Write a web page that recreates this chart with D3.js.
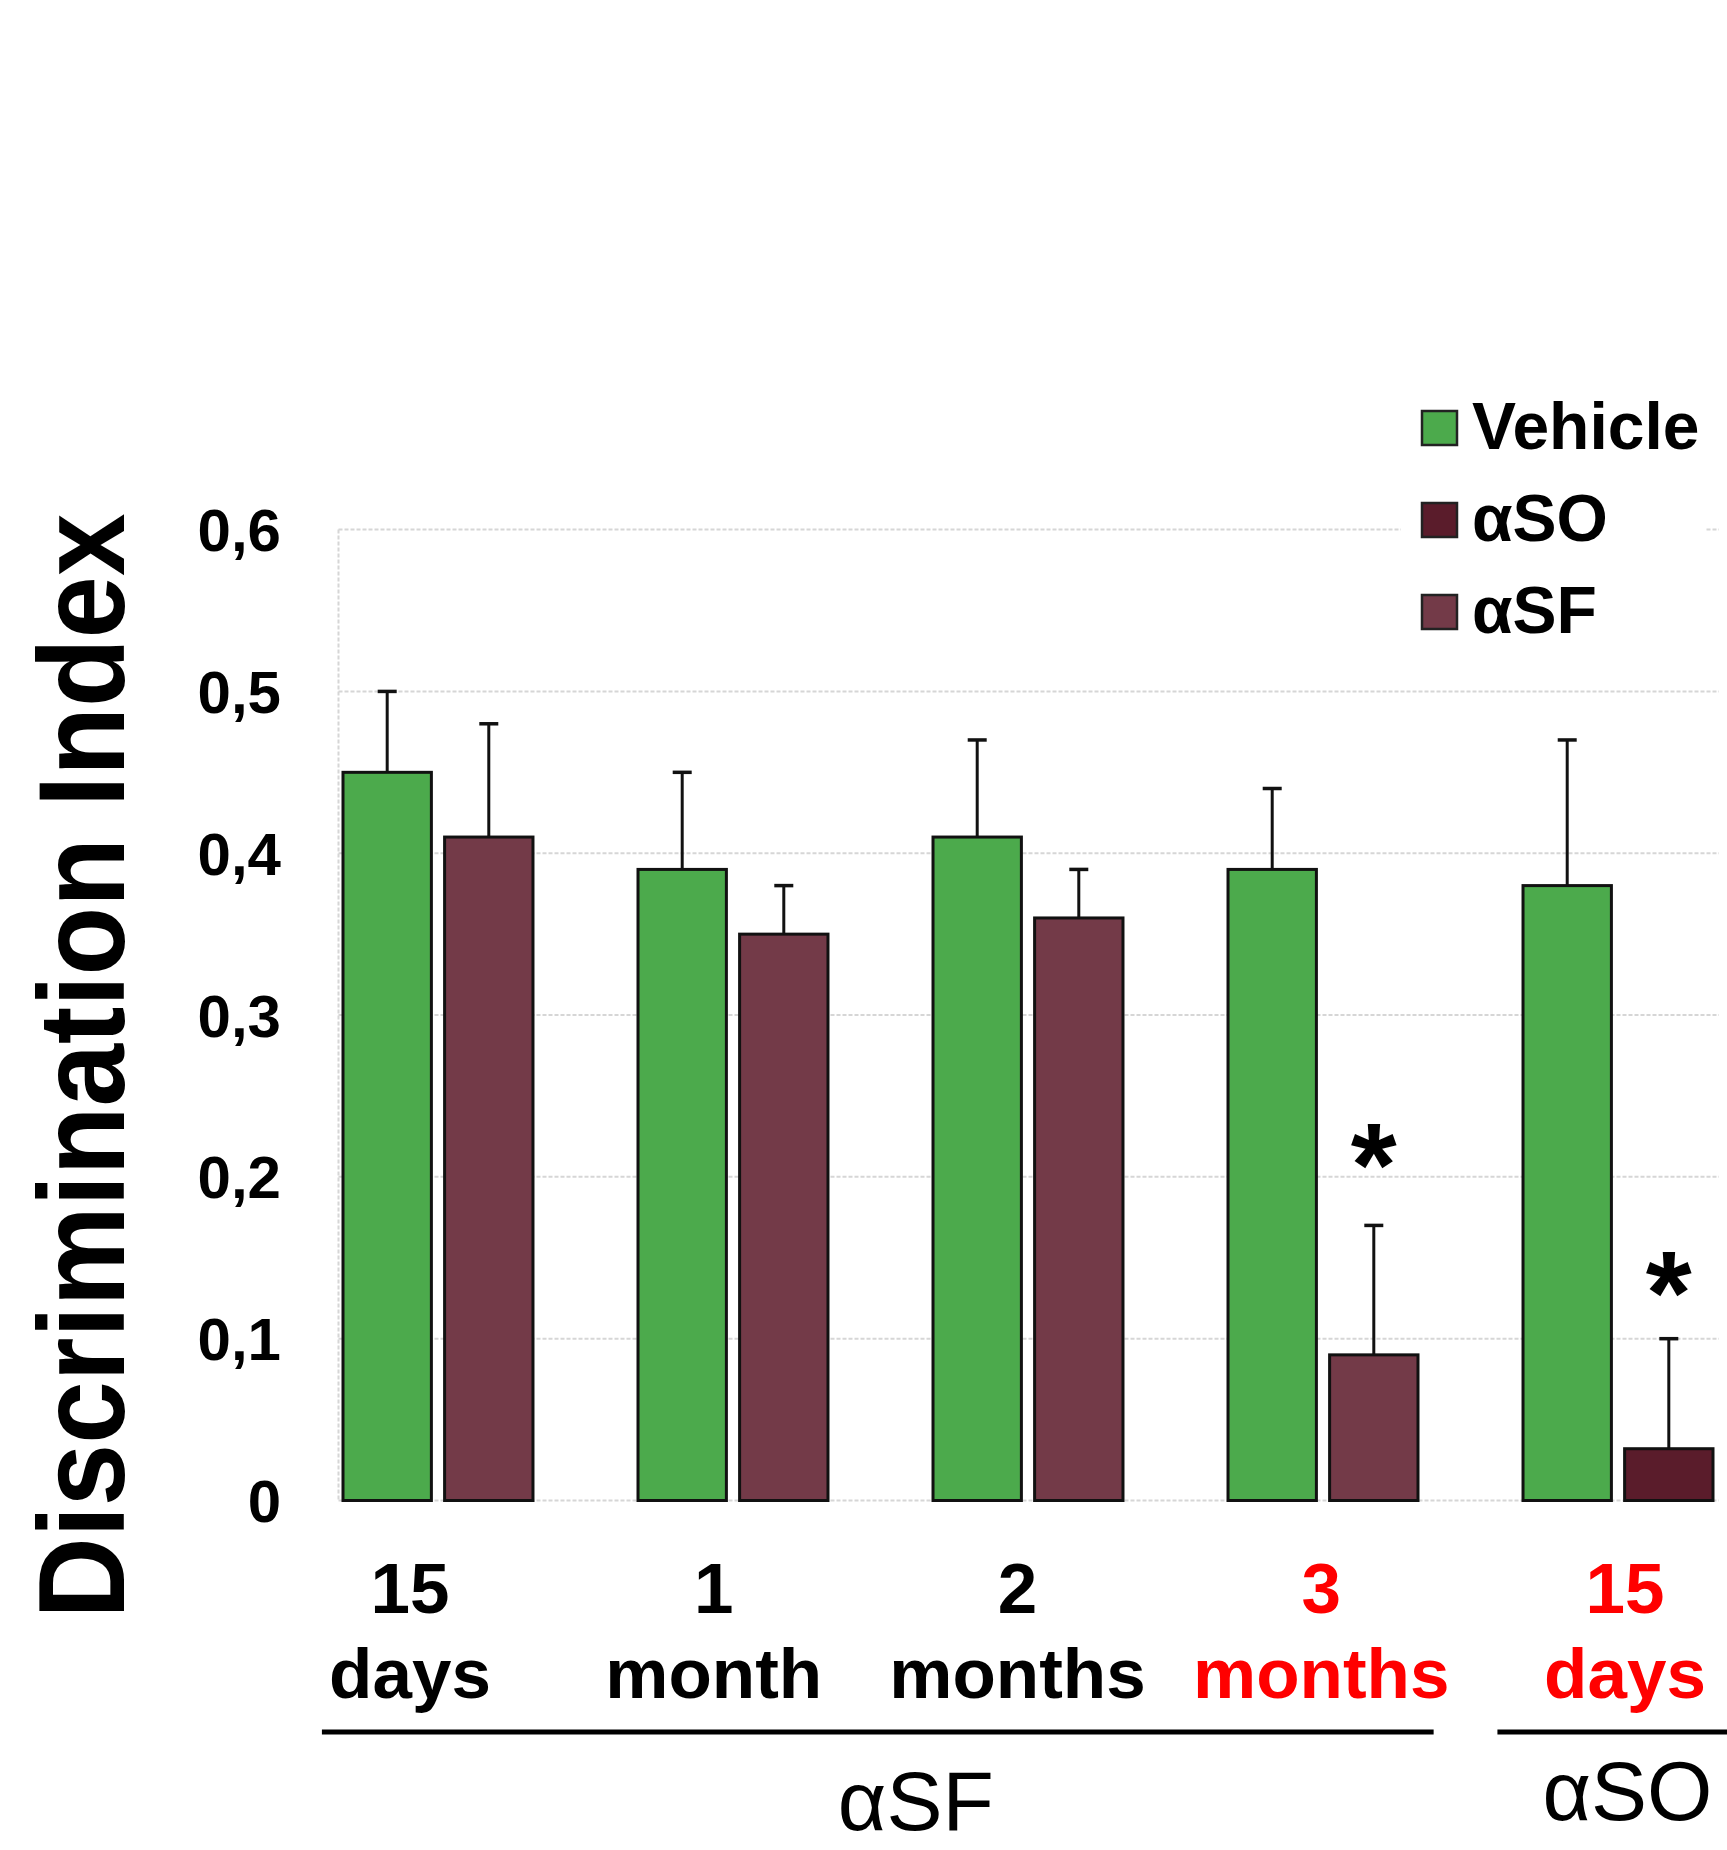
<!DOCTYPE html>
<html>
<head>
<meta charset="utf-8">
<script src="https://cdn.jsdelivr.net/npm/d3@7"></script>
<style>
body{margin:0;background:#fff;}
svg{display:block;font-family:"Liberation Sans",Arial,sans-serif;}
</style>
</head>
<body>
<svg id="graph"></svg>
<script>
// values
let categories = ["c1","c2","c3","c4","c5"]
let labelTop = ["15","1","2","3","15"]
let labelBottom = ["days","month","months","months","days"]
let labelRed = [false,false,false,true,true]
let treatment = ["αSF","αSF","αSF","αSF","αSO"]
let vehicle = [0.45,0.39,0.41,0.39,0.38]
let vehicleSem = [0.05,0.06,0.06,0.05,0.09]
let treated = [0.41,0.35,0.36,0.09,0.032]
let treatedSem = [0.07,0.03,0.03,0.08,0.068]
let starValue = [null,null,null,0.217,0.138]
let yticks = [0,0.1,0.2,0.3,0.4,0.5,0.6]
let legendNames = ["Vehicle","αSO","αSF"]
let groupNames = ["αSF","αSO"]
let groupFirst = [0,4]
let groupLast = [3,4]

let colors = {"Vehicle":"#4caa4c","αSF":"#733a48","αSO":"#5a1c2b"}

// svg size
let w = 1727
let h = 1850

// plot box
let leftmargin = 338.5
let rightedge = 1719
let topmargin = 529.6
let bottomedge = 1500.5

let svg = d3.select("#graph")
    .attr("width",w)
    .attr("height",h)

let yscale = d3.scaleLinear()
    .domain([0,0.6])
    .range([bottomedge,topmargin])

let xscale = d3.scaleBand()
    .domain(categories)
    .range([343,1713])
    .paddingInner(0.356)
    .paddingOuter(0)

let subscale = d3.scaleBand()
    .domain(["veh","trt"])
    .range([0,xscale.bandwidth()])
    .paddingInner(0.13)

let labelscale = d3.scalePoint()
    .domain(categories)
    .range([410,1625])

// gridlines
let grid = svg.append("g")
grid.selectAll("line")
    .data(yticks)
    .enter().append("line")
    .attr("x1",leftmargin).attr("x2",rightedge)
    .attr("y1",d=>yscale(d)).attr("y2",d=>yscale(d))
    .attr("stroke","#d6d6d6")
    .attr("stroke-width",2)
    .attr("stroke-dasharray","4,2")

svg.append("line")
    .attr("x1",leftmargin).attr("x2",leftmargin)
    .attr("y1",topmargin).attr("y2",bottomedge)
    .attr("stroke","#d6d6d6")
    .attr("stroke-width",2)
    .attr("stroke-dasharray","4,2")

// y tick labels
svg.append("g").selectAll("text")
    .data(yticks)
    .enter().append("text")
    .text(d=>d3.format(".1~f")(d).replace(".",","))
    .attr("x",281)
    .attr("y",d=>yscale(d))
    .attr("dy","0.36em")
    .attr("text-anchor","end")
    .style("font-size","60px")
    .style("font-weight","bold")

// y title
svg.append("text")
    .text("Discrimination Index")
    .attr("transform","translate(124,1066) rotate(-90)")
    .attr("text-anchor","middle")
    .attr("textLength",1105)
    .attr("lengthAdjust","spacingAndGlyphs")
    .style("font-size","123px")
    .style("font-weight","bold")

// bars
let rows = categories.map((c,i)=>({
    cat:c,
    bars:[
        {key:"veh",value:vehicle[i],sem:vehicleSem[i],fill:colors["Vehicle"]},
        {key:"trt",value:treated[i],sem:treatedSem[i],fill:colors[treatment[i]]}
    ],
    star:starValue[i]
}))

let groupsg = svg.append("g").selectAll("g")
    .data(rows)
    .enter().append("g")
    .attr("transform",d=>`translate(${xscale(d.cat)},0)`)

let bar = groupsg.selectAll("g")
    .data(d=>d.bars)
    .enter().append("g")

// error bars (upper only)
bar.append("line")
    .attr("x1",d=>subscale(d.key)+subscale.bandwidth()/2)
    .attr("x2",d=>subscale(d.key)+subscale.bandwidth()/2)
    .attr("y1",d=>yscale(d.value))
    .attr("y2",d=>yscale(d.value+d.sem))
    .attr("stroke","#111")
    .attr("stroke-width",3)

bar.append("line")
    .attr("x1",d=>subscale(d.key)+subscale.bandwidth()/2-9.5)
    .attr("x2",d=>subscale(d.key)+subscale.bandwidth()/2+9.5)
    .attr("y1",d=>yscale(d.value+d.sem))
    .attr("y2",d=>yscale(d.value+d.sem))
    .attr("stroke","#111")
    .attr("stroke-width",3.5)

bar.append("rect")
    .attr("x",d=>subscale(d.key))
    .attr("y",d=>yscale(d.value))
    .attr("width",subscale.bandwidth())
    .attr("height",d=>bottomedge-yscale(d.value))
    .style("fill",d=>d.fill)
    .style("stroke","#111")
    .style("stroke-width",3)

// significance stars
groupsg.filter(d=>d.star!=null)
    .append("text")
    .text("*")
    .attr("x",subscale("trt")+subscale.bandwidth()/2)
    .attr("y",d=>yscale(d.star))
    .attr("dy","0.48em")
    .attr("text-anchor","middle")
    .style("font-size","118px")
    .style("font-weight","bold")

// category labels
let labels = svg.append("g").selectAll("g")
    .data(categories)
    .enter().append("g")
    .attr("transform",d=>`translate(${labelscale(d)},0)`)
    .style("fill",(d,i)=>labelRed[i] ? "#ff0000" : "#000")
    .style("font-size","71px")
    .style("font-weight","bold")
    .attr("text-anchor","middle")

labels.append("text")
    .text((d,i)=>labelTop[i])
    .attr("y",1613)
labels.append("text")
    .text((d,i)=>labelBottom[i])
    .attr("y",1698)

// treatment group brackets
let step = labelscale.step()
let groupLabelDx = [38,10]
let groupLabelY = [1830,1820]
groupNames.forEach((g,i)=>{
    let x0 = labelscale(categories[groupFirst[i]]) - step*(i==0 ? 0.29 : 0.42)
    let x1 = labelscale(categories[groupLast[i]]) + step*0.37
    svg.append("line")
        .attr("x1",x0).attr("x2",x1)
        .attr("y1",1732).attr("y2",1732)
        .attr("stroke","#000")
        .attr("stroke-width",5)
    svg.append("text")
        .text(g)
        .attr("x",(x0+x1)/2+groupLabelDx[i])
        .attr("y",groupLabelY[i])
        .attr("text-anchor","middle")
        .style("font-size","84px")
})

// legend
let legend = svg.append("g")
legend.append("rect")
    .attr("x",1401).attr("y",378)
    .attr("width",304).attr("height",280)
    .style("fill","#fff")

let items = legend.selectAll("g")
    .data(legendNames)
    .enter().append("g")
    .attr("transform",(d,i)=>`translate(1422,${428+i*92})`)

items.append("rect")
    .attr("x",0).attr("y",-17)
    .attr("width",35).attr("height",34)
    .style("fill",d=>colors[d])
    .style("stroke","#222")
    .style("stroke-width",2.5)

items.append("text")
    .text(d=>d)
    .attr("x",50)
    .attr("y",21)
    .style("font-size","66px")
    .style("font-weight","bold")
</script>
</body>
</html>
